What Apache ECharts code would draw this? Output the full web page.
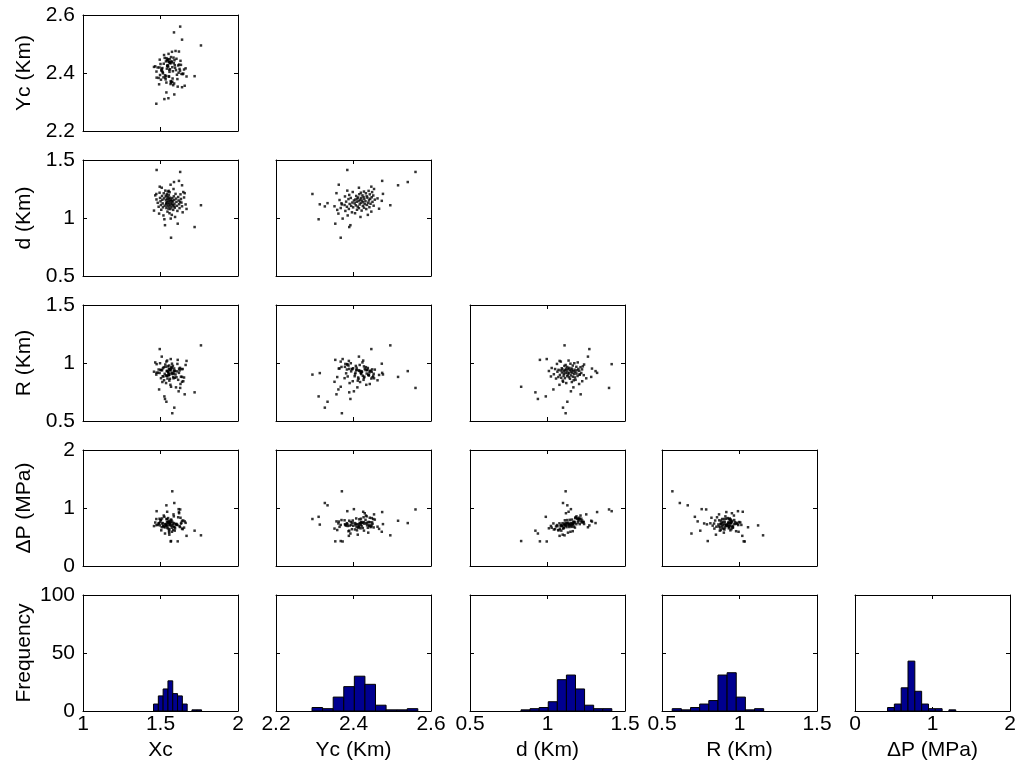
<!DOCTYPE html>
<html>
<head>
<meta charset="utf-8">
<title>Parameter samples</title>
<script src="https://cdn.jsdelivr.net/npm/echarts@6/dist/echarts.min.js"></script>
<style>
    html, body { margin: 0; padding: 0; background: #fff; }
    #chart { width: 1024px; height: 776px; }
</style>
</head>
<body>
<div id="chart"></div>
<script>
// one entry per sample, same order in every array
var xc = [
    1.529, 1.611, 1.525, 1.566, 1.594, 1.519, 1.573, 1.491, 1.558, 1.643,
    1.545, 1.609, 1.458, 1.582, 1.505, 1.564, 1.668, 1.552, 1.623, 1.538,
    1.592, 1.516, 1.571, 1.488, 1.557, 1.639, 1.544, 1.606, 1.527, 1.580,
    1.503, 1.562, 1.662, 1.551, 1.620, 1.536, 1.590, 1.514, 1.570, 1.482,
    1.556, 1.635, 1.543, 1.603, 1.626, 1.578, 1.500, 1.561, 1.574, 1.550,
    1.617, 1.535, 1.588, 1.512, 1.568, 1.474, 1.555, 1.632, 1.542, 1.600,
    1.523, 1.576, 1.497, 1.560, 1.652, 1.549, 1.614, 1.533, 1.586, 1.510,
    1.539, 1.466, 1.554, 1.629, 1.541, 1.597, 1.521, 1.656, 1.494, 1.559,
    1.647, 1.547, 1.553, 1.531, 1.584, 1.508, 1.565,
    1.475, 1.627, 1.587, 1.639, 1.619, 1.473, 1.568, 1.761, 1.720, 1.495, 1.576, 1.589, 1.538
];
var yc = [
    2.392, 2.353, 2.310, 2.372, 2.418, 2.385, 2.437, 2.361, 2.404, 2.396,
    2.446, 2.379, 2.421, 2.358, 2.409, 2.433, 2.388, 2.466, 2.414, 2.367,
    2.427, 2.399, 2.441, 2.383, 2.411, 2.351, 2.424, 2.394, 2.452, 2.406,
    2.377, 2.435, 2.416, 2.313, 2.429, 2.390, 2.444, 2.403, 2.369, 2.419,
    2.438, 2.397, 2.425, 2.449, 2.408, 2.381, 2.431, 2.413, 2.473, 2.422,
    2.401, 2.440, 2.364, 2.417, 2.455, 2.405, 2.387, 2.428, 2.443, 2.410,
    2.462, 2.420, 2.393, 2.436, 2.412, 2.447, 2.426, 2.378, 2.434, 2.407,
    2.451, 2.423, 2.389, 2.442, 2.415, 2.476, 2.432, 2.356, 2.419, 2.448,
    2.398, 2.427, 2.439, 2.384, 2.453, 2.414, 2.362,
    2.384, 2.560, 2.540, 2.515, 2.474, 2.294, 2.367, 2.495, 2.389, 2.446, 2.370, 2.326, 2.333
];
var dd = [
    0.938, 0.951, 0.989, 0.995, 1.009, 1.022, 1.027, 1.038, 1.041, 1.049,
    1.055, 1.061, 1.064, 1.070, 1.071, 1.077, 1.078, 1.080, 1.085, 1.086,
    1.089, 1.092, 1.093, 1.097, 1.098, 1.101, 1.104, 1.105, 1.106, 1.109,
    1.112, 1.113, 1.117, 1.118, 1.119, 1.121, 1.123, 1.126, 1.127, 1.131,
    1.132, 1.133, 1.136, 1.139, 1.140, 1.141, 1.144, 1.145, 1.148, 1.150,
    1.151, 1.152, 1.155, 1.157, 1.158, 1.160, 1.163, 1.164, 1.166, 1.167,
    1.169, 1.172, 1.173, 1.175, 1.177, 1.179, 1.181, 1.186, 1.187, 1.190,
    1.194, 1.195, 1.199, 1.204, 1.205, 1.208, 1.213, 1.214, 1.218, 1.223,
    1.224, 1.228, 1.234, 1.236, 1.250, 1.261, 1.287,
    1.414, 1.397, 1.310, 1.282, 1.320, 1.207, 0.830, 1.110, 0.922, 1.270, 1.117, 1.100, 1.128
];
var rr = [
    0.690, 1.027, 0.712, 1.034, 0.931, 0.884, 0.957, 0.772, 0.903, 0.948,
    0.866, 0.992, 0.925, 0.879, 0.941, 0.812, 1.018, 0.897, 0.936, 1.012,
    0.873, 0.955, 0.918, 0.944, 0.848, 0.838, 0.890, 0.928, 0.907, 0.975,
    0.869, 0.938, 0.983, 0.913, 0.951, 0.827, 0.934, 0.886, 0.966, 0.917,
    0.899, 0.947, 1.021, 0.877, 0.958, 0.911, 0.939, 0.864, 0.994, 0.926,
    0.756, 0.893, 0.953, 0.836, 0.943, 0.916, 0.978, 0.882, 0.930, 0.790,
    0.851, 0.905, 0.998, 0.942, 0.875, 0.924, 0.855, 0.967, 0.909, 0.937,
    0.888, 1.005, 0.949, 0.819, 0.932, 0.901, 0.964, 0.730, 0.914, 0.945,
    0.843, 0.971, 0.895, 0.987, 0.868, 1.055, 0.952,
    0.990, 0.785, 0.930, 0.880, 0.915, 0.900, 0.795, 1.152, 0.747, 1.120, 0.567, 0.615, 0.666
];
var dp = [
    0.560, 0.425, 0.848, 0.423, 0.650, 0.690, 0.660, 0.734, 0.630, 0.635,
    0.682, 0.706, 0.688, 0.620, 0.615, 0.736, 0.520, 0.640, 0.686, 0.708,
    0.610, 0.694, 0.692, 0.738, 0.540, 0.645, 0.655, 0.710, 0.665, 0.728,
    0.788, 0.702, 0.744, 0.714, 0.910, 0.696, 0.670, 0.740, 0.792, 0.712,
    0.575, 0.746, 0.935, 0.726, 0.672, 0.698, 0.796, 0.716, 0.590, 0.742,
    0.980, 0.700, 0.675, 0.732, 0.800, 0.704, 0.600, 0.730, 0.754, 0.718,
    0.678, 0.763, 0.758, 0.748, 0.662, 0.826, 0.840, 0.720, 0.856, 0.820,
    0.810, 0.750, 0.781, 0.832, 0.805, 0.722, 0.870, 0.769, 0.815, 0.752,
    0.784, 0.756, 0.760, 0.724, 0.890, 0.668, 0.766,
    0.945, 0.975, 0.740, 0.780, 0.930, 0.810, 0.430, 0.529, 0.609, 0.700, 1.288, 1.086, 1.046
];

// histogram counts, 10 bins between the smallest and largest sample
var xcCounts = [6, 13, 19, 26, 15, 13, 6, 0, 1, 1];
var ycCounts = [3, 2, 12, 21, 30, 23, 5, 1, 1, 2];
var dCounts = [1, 2, 3, 8, 27, 31, 19, 5, 2, 2];
var rCounts = [2, 1, 3, 6, 9, 31, 33, 12, 1, 2];
var dpCounts = [3, 6, 20, 43, 17, 6, 2, 2, 0, 1];
var xcRange = [1.455, 1.765];
var ycRange = [2.293, 2.566];
var dRange = [0.829, 1.415];
var rRange = [0.566, 1.156];
var dpRange = [0.42, 1.30];

// tick labels
var xcTicks = [1, 1.5, 2];
var ycTicks = [2.2, 2.4, 2.6];
var dTicks = [0.5, 1, 1.5];
var rTicks = [0.5, 1, 1.5];
var dpTicks = [0, 1, 2];
var freqTicks = [0, 50, 100];

var names = ['Xc', 'Yc (Km)', 'd (Km)', 'R (Km)', 'ΔP (MPa)'];

var samples = [xc, yc, dd, rr, dp];
var ticks = [xcTicks, ycTicks, dTicks, rTicks, dpTicks];
var counts = [xcCounts, ycCounts, dCounts, rCounts, dpCounts];
var ranges = [xcRange, ycRange, dRange, rRange, dpRange];

// panel placement (px)
var colLeft = [83, 276, 470, 662, 855];
var rowTop = [15, 160, 305, 450, 595];
var panelW = 155;
var panelH = 116;
var FONT = '"Liberation Sans", Arial, sans-serif';
var FSIZE = 21;

var option = {
    backgroundColor: '#fff',
    animation: false,
    grid: [],
    xAxis: [],
    yAxis: [],
    series: []
};

function axisBase(t) {
    return {
        type: 'value',
        min: t[0],
        max: t[t.length - 1],
        interval: +(t[1] - t[0]).toFixed(6),
        axisLine: {show: true, onZero: false, lineStyle: {color: '#000', width: 1}},
        axisTick: {show: true, inside: true, length: 4, lineStyle: {color: '#000', width: 1}},
        axisLabel: {show: false, color: '#000', fontSize: FSIZE, fontFamily: FONT},
        splitLine: {show: false}
    };
}

// one boxed panel: bottom/left axes carry labels, top/right only ticks
function addPanel(row, col, xt, yt, xName, yName) {
    var g = option.grid.length;
    option.grid.push({left: colLeft[col], top: rowTop[row], width: panelW, height: panelH});

    var xb = axisBase(xt), xtop = axisBase(xt);
    var yl = axisBase(yt), yrt = axisBase(yt);
    xb.gridIndex = xtop.gridIndex = yl.gridIndex = yrt.gridIndex = g;
    xb.position = 'bottom';
    xtop.position = 'top';
    yl.position = 'left';
    yrt.position = 'right';

    if (xName) {
        xb.axisLabel.show = true;
        xb.axisLabel.margin = 3;
        xb.name = xName;
        xb.nameLocation = 'middle';
        xb.nameGap = 29;
        xb.nameTextStyle = {color: '#000', fontSize: FSIZE, fontFamily: FONT};
    }
    if (yName) {
        yl.axisLabel.show = true;
        yl.axisLabel.margin = 8;
        yl.name = yName;
        yl.nameLocation = 'middle';
        yl.nameGap = 48;
        yl.nameRotate = 90;
        yl.nameTextStyle = {color: '#000', fontSize: FSIZE, fontFamily: FONT};
    }

    var xi = option.xAxis.length;
    option.xAxis.push(xb, xtop);
    var yi = option.yAxis.length;
    option.yAxis.push(yl, yrt);
    return {x: xi, y: yi};
}

function renderBar(params, api) {
    var p0 = api.coord([api.value(0), api.value(2)]);
    var p1 = api.coord([api.value(1), 0]);
    return {
        type: 'rect',
        shape: {x: p0[0], y: p0[1], width: p1[0] - p0[0], height: p1[1] - p0[1]},
        style: {fill: '#000090', stroke: '#000', lineWidth: 1}
    };
}

// scatter panels: row i holds parameter i+1 against parameters 0..i
for (var i = 0; i < 4; i++) {
    var yv = i + 1;
    for (var j = 0; j <= i; j++) {
        var ax = addPanel(i, j, ticks[j], ticks[yv], null, j === 0 ? names[yv] : null);
        var pts = samples[j].map(function (v, k) { return [v, samples[yv][k]]; });
        option.series.push({
            type: 'scatter',
            xAxisIndex: ax.x,
            yAxisIndex: ax.y,
            data: pts,
            symbol: 'rect',
            symbolSize: 2.5,
            itemStyle: {color: '#000'},
            silent: true
        });
    }
}

// histograms on the bottom row
for (var h = 0; h < 5; h++) {
    var axh = addPanel(4, h, ticks[h], freqTicks, names[h], h === 0 ? 'Frequency' : null);
    var rg = ranges[h];
    var w = (rg[1] - rg[0]) / counts[h].length;
    var bars = [];
    counts[h].forEach(function (c, k) {
        if (c > 0) bars.push([rg[0] + k * w, rg[0] + (k + 1) * w, c]);
    });
    option.series.push({
        type: 'custom',
        xAxisIndex: axh.x,
        yAxisIndex: axh.y,
        renderItem: renderBar,
        encode: {x: [0, 1], y: 2},
        data: bars,
        silent: true
    });
}

var chart = echarts.init(document.getElementById('chart'));
chart.setOption(option);
window.onresize = function () { chart.resize(); };
</script>
</body>
</html>
